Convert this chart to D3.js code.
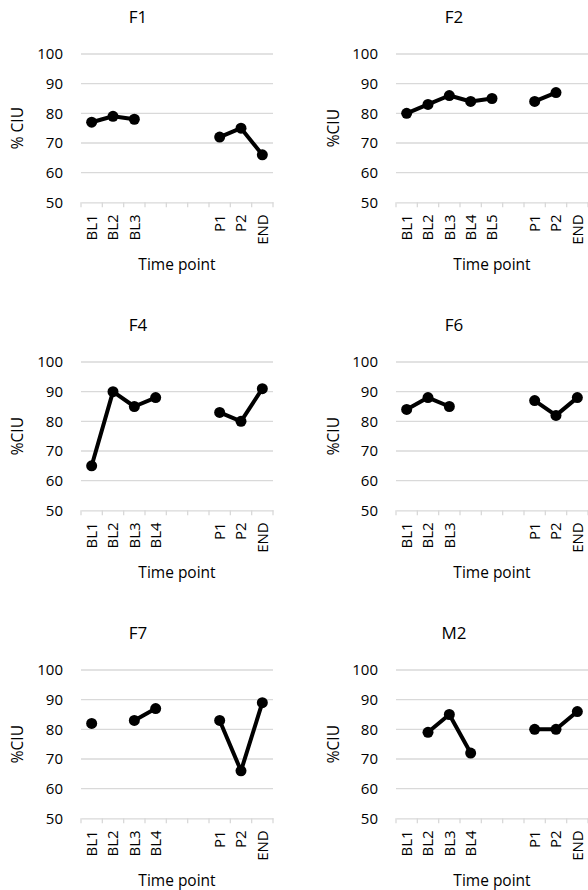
<!DOCTYPE html>
<html>
<head>
<meta charset="utf-8">
<script src="https://cdn.jsdelivr.net/npm/d3@7"></script>
<style>
  html, body { margin: 0; padding: 0; background: #fff; }
  svg { display: block; font-family: "Open Sans", "Noto Sans", sans-serif; }
</style>
</head>
<body>
<svg id="chart" width="588" height="890"></svg>
<script>
// ---- Data ----
const titles = ["F1", "F2", "F4", "F6", "F7", "M2"];
const yTitles = ["% CIU", "%CIU", "%CIU", "%CIU", "%CIU", "%CIU"];
const yTicks = [50, 60, 70, 80, 90, 100];

const catsF1 = ["BL1", "BL2", "BL3", "", "", "", "P1", "P2", "END"];
const catsF2 = ["BL1", "BL2", "BL3", "BL4", "BL5", "", "P1", "P2", "END"];
const catsF4 = ["BL1", "BL2", "BL3", "BL4", "", "", "P1", "P2", "END"];
const catsF6 = ["BL1", "BL2", "BL3", "", "", "", "P1", "P2", "END"];
const catsF7 = ["BL1", "BL2", "BL3", "BL4", "", "", "P1", "P2", "END"];
const catsM2 = ["BL1", "BL2", "BL3", "BL4", "", "", "P1", "P2", "END"];

const valsF1 = [77, 79, 78, null, null, null, 72, 75, 66];
const valsF2 = [80, 83, 86, 84, 85, null, 84, 87, null];
const valsF4 = [65, 90, 85, 88, null, null, 83, 80, 91];
const valsF6 = [84, 88, 85, null, null, null, 87, 82, 88];
const valsF7 = [82, null, 83, 87, null, null, 83, 66, 89];
const valsM2 = [null, 79, 85, 72, null, null, 80, 80, 86];

const categories = [catsF1, catsF2, catsF4, catsF6, catsF7, catsM2];
const values = [valsF1, valsF2, valsF4, valsF6, valsF7, valsM2];

// ---- Layout ----
const colX = [81, 396];
const titleX = [138, 454];
const yTitleX = [18, 334];
const rowTop = [54, 362, 670];
const plotW = 192, plotH = 148.3;

const svg = d3.select("#chart");
const gridColor = "#d9d9d9";

titles.forEach((t, i) => {
  const col = i % 2, row = Math.floor(i / 2);
  const x0 = colX[col], y0 = rowTop[row];
  const cats = categories[i], vals = values[i];
  const idx = d3.range(cats.length);

  const x = d3.scaleBand().domain(idx).range([x0, x0 + plotW]).padding(0);
  const y = d3.scaleLinear().domain([50, 100]).range([y0 + plotH, y0]);

  const g = svg.append("g");

  // gridlines
  g.selectAll("line.grid").data(yTicks.filter(v => v > 50)).join("line")
    .attr("x1", x0).attr("x2", x0 + plotW)
    .attr("y1", d => y(d)).attr("y2", d => y(d))
    .attr("stroke", gridColor).attr("stroke-width", 1.3);

  // x axis line + tick marks
  const xAxis = d3.axisBottom(x).tickSize(0).tickFormat("");
  const ax = g.append("g").attr("transform", `translate(0,${y(50)})`).call(xAxis);
  ax.select(".domain").attr("stroke", gridColor).attr("stroke-width", 1.3);
  ax.selectAll(".tick").remove();
  g.selectAll("line.xtick").data(d3.range(cats.length + 1)).join("line")
    .attr("x1", d => x0 + d * x.bandwidth()).attr("x2", d => x0 + d * x.bandwidth())
    .attr("y1", y(50)).attr("y2", y(50) + 5)
    .attr("stroke", gridColor).attr("stroke-width", 1.3);

  // y tick labels
  g.selectAll("text.ytick").data(yTicks).join("text")
    .attr("x", x0 - 18).attr("y", d => y(d))
    .attr("dy", "0.35em").attr("text-anchor", "end")
    .attr("font-size", 15).attr("fill", "#000")
    .text(d => d);

  // x tick labels (rotated)
  g.selectAll("text.xtick").data(idx.filter(k => cats[k] !== "")).join("text")
    .attr("transform", k => `translate(${x(k) + x.bandwidth() / 2},${y(50) + 12}) rotate(-90)`)
    .attr("dy", "0.35em").attr("text-anchor", "end")
    .attr("font-size", 15).attr("fill", "#000")
    .text(k => cats[k]);

  // title
  g.append("text").attr("x", titleX[col]).attr("y", y0 - 37).attr("dy", "0.35em")
    .attr("text-anchor", "middle").attr("font-size", 17).text(t);

  // y title
  g.append("text")
    .attr("transform", `translate(${yTitleX[col]},${y0 + plotH / 2}) rotate(-90)`)
    .attr("dy", "0.35em").attr("text-anchor", "middle").attr("font-size", 15.5)
    .text(yTitles[i]);

  // x title
  g.append("text").attr("x", x0 + plotW / 2).attr("y", y(50) + 62).attr("dy", "0.35em")
    .attr("text-anchor", "middle").attr("font-size", 15.5).text("Time point");

  // line
  const pts = idx.map(k => ({ k, v: vals[k] }));
  const line = d3.line().defined(d => d.v != null)
    .x(d => x(d.k) + x.bandwidth() / 2).y(d => y(d.v));
  g.append("path").datum(pts).attr("d", line)
    .attr("fill", "none").attr("stroke", "#000").attr("stroke-width", 4)
    .attr("stroke-linejoin", "round");

  g.selectAll("circle").data(pts.filter(d => d.v != null)).join("circle")
    .attr("cx", d => x(d.k) + x.bandwidth() / 2).attr("cy", d => y(d.v))
    .attr("r", 5.5).attr("fill", "#000");
});
</script>
</body>
</html>
